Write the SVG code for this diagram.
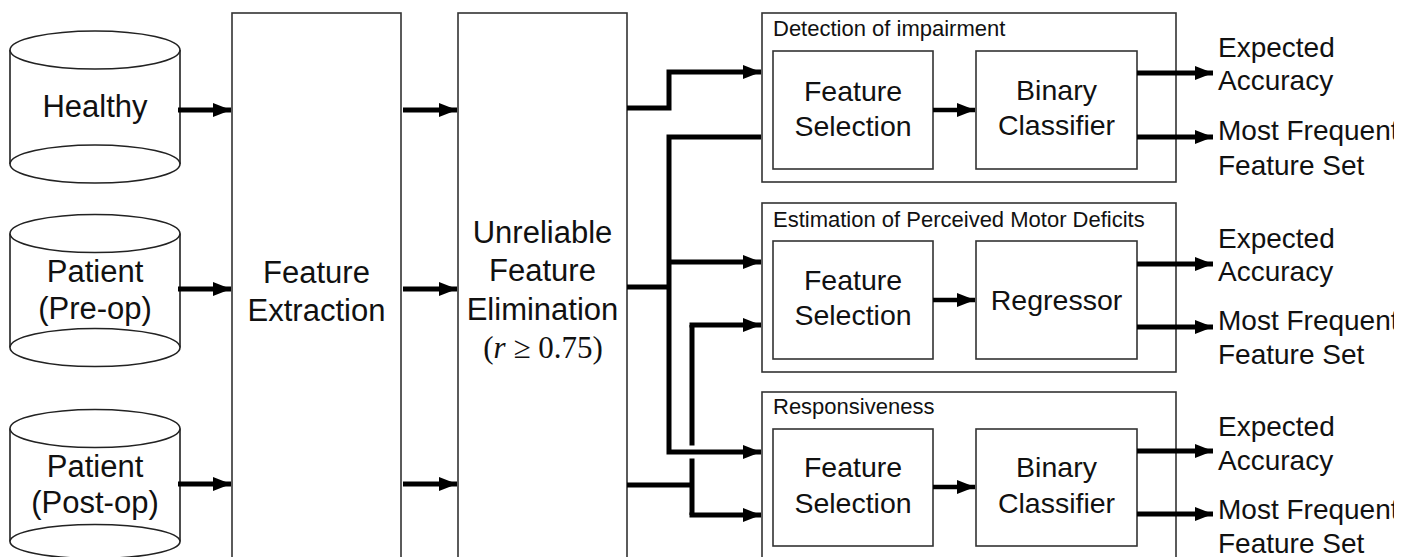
<svg xmlns="http://www.w3.org/2000/svg" width="1419" height="557" viewBox="0 0 1419 557">
<style>
.box{fill:#fff;stroke:#333;stroke-width:1.6}
.cyl{fill:#fff;stroke:#222;stroke-width:1.6}
.big{font-family:"Liberation Sans",Arial,sans-serif;font-size:31px;fill:#111;text-anchor:middle}
.mid{font-family:"Liberation Sans",Arial,sans-serif;font-size:28.5px;fill:#111;text-anchor:middle}
.out{font-family:"Liberation Sans",Arial,sans-serif;font-size:28px;fill:#111}
.ttl{font-family:"Liberation Sans",Arial,sans-serif;font-size:22px;fill:#111}
.math{font-family:"Liberation Serif","Times New Roman",serif;font-size:31px;fill:#111;text-anchor:middle}
.c{fill:none;stroke:#000;stroke-width:5}
.ca{fill:none;stroke:#000;stroke-width:5;marker-end:url(#ah)}
.cs{fill:none;stroke:#000;stroke-width:4.5;marker-end:url(#ah)}
</style>
<defs>
<marker id="ah" markerUnits="userSpaceOnUse" markerWidth="20" markerHeight="16" refX="18" refY="8" orient="auto">
<path d="M0,1 L18,8 L0,15 Z" fill="#000"/>
</marker>
<clipPath id="clipR"><rect x="0" y="0" width="1394" height="557"/></clipPath>
</defs>
<rect width="1419" height="557" fill="#fff"/>

<g id="healthy">
<path class="cyl" d="M10,50 V164 M180,50 V164"/>
<ellipse class="cyl" cx="95" cy="50" rx="85" ry="19"/>
<ellipse class="cyl" cx="95" cy="164" rx="85" ry="19"/>
<text class="big" x="95" y="117">Healthy</text>
</g>
<g id="preop">
<path class="cyl" d="M10,233.5 V347.5 M180,233.5 V347.5"/>
<ellipse class="cyl" cx="95" cy="233.5" rx="85" ry="19"/>
<ellipse class="cyl" cx="95" cy="347.5" rx="85" ry="19"/>
<text class="big" x="95" y="282">Patient</text>
<text class="big" x="95" y="319">(Pre-op)</text>
</g>
<g id="postop">
<path class="cyl" d="M10,428.5 V541.5 M180,428.5 V541.5"/>
<ellipse class="cyl" cx="95" cy="428.5" rx="85" ry="19"/>
<ellipse class="cyl" cx="95" cy="541.5" rx="85" ry="17"/>
<text class="big" x="95" y="477">Patient</text>
<text class="big" x="95" y="513">(Post-op)</text>
</g>

<g id="extraction">
<rect class="box" x="232" y="13" width="169" height="560"/>
<text class="big" x="316.5" y="283">Feature</text>
<text class="big" x="316.5" y="321">Extraction</text>
</g>
<g id="elimination">
<rect class="box" x="458" y="13" width="169" height="560"/>
<text class="big" x="542.5" y="243">Unreliable</text>
<text class="big" x="542.5" y="281">Feature</text>
<text class="big" x="542.5" y="320">Elimination</text>
<text class="math" x="543" y="358">(<tspan font-style="italic">r</tspan> ≥ 0.75)</text>
</g>

<g id="detection">
<rect class="box" x="762" y="13" width="414" height="169"/>
<text class="ttl" x="773" y="36">Detection of impairment</text>
<g id="det-fs">
<rect class="box" x="773" y="51" width="160" height="118"/>
<text class="mid" x="853" y="101">Feature</text>
<text class="mid" x="853" y="136">Selection</text>
</g>
<g id="det-bc">
<rect class="box" x="976" y="51" width="161" height="118"/>
<text class="mid" x="1056.5" y="100">Binary</text>
<text class="mid" x="1056.5" y="135">Classifier</text>
</g>
</g>

<g id="estimation">
<rect class="box" x="762" y="203" width="414" height="169"/>
<text class="ttl" x="773" y="227">Estimation of Perceived Motor Deficits</text>
<g id="est-fs">
<rect class="box" x="773" y="241" width="160" height="118"/>
<text class="mid" x="853" y="290">Feature</text>
<text class="mid" x="853" y="325">Selection</text>
</g>
<g id="est-rg">
<rect class="box" x="976" y="241" width="161" height="118"/>
<text class="mid" x="1056.5" y="310">Regressor</text>
</g>
</g>

<g id="responsiveness">
<rect class="box" x="762" y="392" width="414" height="180"/>
<text class="ttl" x="773" y="414">Responsiveness</text>
<g id="res-fs">
<rect class="box" x="773" y="429" width="160" height="117"/>
<text class="mid" x="853" y="477">Feature</text>
<text class="mid" x="853" y="513">Selection</text>
</g>
<g id="res-bc">
<rect class="box" x="976" y="429" width="161" height="117"/>
<text class="mid" x="1056.5" y="477">Binary</text>
<text class="mid" x="1056.5" y="513">Classifier</text>
</g>
</g>

<g id="outputs" clip-path="url(#clipR)">
<text class="out" x="1218" y="57">Expected</text>
<text class="out" x="1218" y="90">Accuracy</text>
<text class="out" x="1218" y="140">Most Frequent</text>
<text class="out" x="1218" y="175">Feature Set</text>
<text class="out" x="1218" y="248">Expected</text>
<text class="out" x="1218" y="281">Accuracy</text>
<text class="out" x="1218" y="330">Most Frequent</text>
<text class="out" x="1218" y="364">Feature Set</text>
<text class="out" x="1218" y="436">Expected</text>
<text class="out" x="1218" y="470">Accuracy</text>
<text class="out" x="1218" y="519">Most Frequent</text>
<text class="out" x="1218" y="553">Feature Set</text>
</g>

<g id="connectors">
<path class="ca" d="M178,110 H231"/>
<path class="ca" d="M178,289 H231"/>
<path class="ca" d="M178,484 H231"/>
<path class="ca" d="M403,110 H457"/>
<path class="ca" d="M403,289 H457"/>
<path class="ca" d="M403,484 H457"/>
<path class="ca" d="M627,108 H669 V72 H761"/>
<path class="c" d="M627,287 H669"/>
<path class="ca" d="M761,137 H669 V452 H761"/>
<path class="ca" d="M669,262 H761"/>
<path class="c" d="M627,485 H692"/>
<path class="c" d="M692,325 V445.5 M692,458.5 V515" style="stroke-linecap:butt"/>
<path class="ca" d="M689.5,325 H761"/>
<path class="ca" d="M689.5,515 H761"/>
<path class="cs" d="M933,110 H975"/>
<path class="cs" d="M933,300 H975"/>
<path class="cs" d="M933,487 H975"/>
<path class="ca" d="M1137,73 H1213"/>
<path class="ca" d="M1137,137 H1213"/>
<path class="ca" d="M1137,264 H1213"/>
<path class="ca" d="M1137,327 H1213"/>
<path class="ca" d="M1137,451 H1213"/>
<path class="ca" d="M1137,514 H1213"/>
</g>
</svg>
